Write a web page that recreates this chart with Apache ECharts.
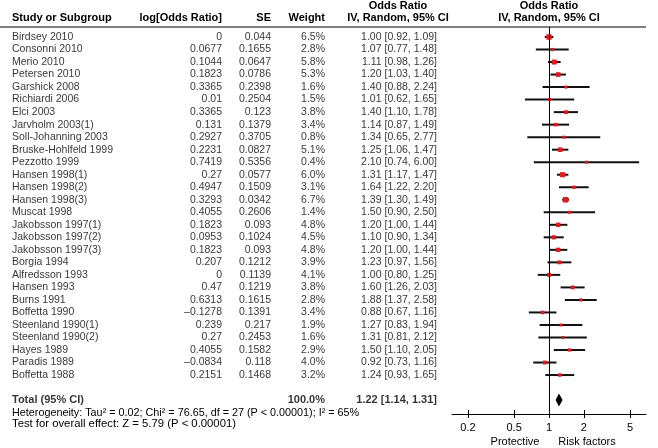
<!DOCTYPE html>
<html><head><meta charset="utf-8">
<script src="https://cdn.jsdelivr.net/npm/echarts@6/dist/echarts.min.js"></script>
<style>html,body{margin:0;padding:0;background:#fff}#c{width:658px;height:448px}</style>
</head><body><div id="c"></div>
<script>
const studies = ['Birdsey 2010','Consonni 2010','Merio 2010','Petersen 2010','Garshick 2008','Richiardi 2006','Elci 2003','Jarvholm 2003(1)','Soll-Johanning 2003','Bruske-Hohlfeld 1999','Pezzotto 1999','Hansen 1998(1)','Hansen 1998(2)','Hansen 1998(3)','Muscat 1998','Jakobsson 1997(1)','Jakobsson 1997(2)','Jakobsson 1997(3)','Borgia 1994','Alfredsson 1993','Hansen 1993','Burns 1991','Boffetta 1990','Steenland 1990(1)','Steenland 1990(2)','Hayes 1989','Paradis 1989','Boffetta 1988'];
const logOR = [0,0.0677,0.1044,0.1823,0.3365,0.01,0.3365,0.131,0.2927,0.2231,0.7419,0.27,0.4947,0.3293,0.4055,0.1823,0.0953,0.1823,0.207,0,0.47,0.6313,-0.1278,0.239,0.27,0.4055,-0.0834,0.2151];
const se = [0.044,0.1655,0.0647,0.0786,0.2398,0.2504,0.123,0.1379,0.3705,0.0827,0.5356,0.0577,0.1509,0.0342,0.2606,0.093,0.1024,0.093,0.1212,0.1139,0.1219,0.1615,0.1391,0.217,0.2453,0.1582,0.118,0.1468];
const weights = [6.5,2.8,5.8,5.3,1.6,1.5,3.8,3.4,0.8,5.1,0.4,6.0,3.1,6.7,1.4,4.8,4.5,4.8,3.9,4.1,3.8,2.8,3.4,1.9,1.6,2.9,4.0,3.2];
const oddsRatio = [1.00,1.07,1.11,1.20,1.40,1.01,1.40,1.14,1.34,1.25,2.10,1.31,1.64,1.39,1.50,1.20,1.10,1.20,1.23,1.00,1.60,1.88,0.88,1.27,1.31,1.50,0.92,1.24];
const ciLow = [0.92,0.77,0.98,1.03,0.88,0.62,1.10,0.87,0.65,1.06,0.74,1.17,1.22,1.30,0.90,1.00,0.90,1.00,0.97,0.80,1.26,1.37,0.67,0.83,0.81,1.10,0.73,0.93];
const ciHigh = [1.09,1.48,1.26,1.40,2.24,1.65,1.78,1.49,2.77,1.47,6.00,1.47,2.20,1.49,2.50,1.44,1.34,1.44,1.56,1.25,2.03,2.58,1.16,1.94,2.12,2.05,1.16,1.65];
const totalLabel = 'Total (95% CI)';
const totalWeight = 100.0;
const totalOR = 1.22, totalLow = 1.14, totalHigh = 1.31;
const tickValues = [0.2, 0.5, 1, 2, 5];
const heterogeneityText = 'Heterogeneity: Tau\u00b2 = 0.02; Chi\u00b2 = 76.65, df = 27 (P < 0.00001); I\u00b2 = 65%';
const overallText = 'Test for overall effect: Z = 5.79 (P < 0.00001)';

const FONT = 'Liberation Sans, Arial, Helvetica, sans-serif';
const FS = 10.5;
const totalRow = studies.length + 1;
const fmtNum = v => String(v).replace('-', '\u2013');
const fmtCI = (o, l, h) => o.toFixed(2) + ' [' + l.toFixed(2) + ', ' + h.toFixed(2) + ']';

// row geometry
const ROW0 = 37, ROWH = 12.52;
const tableMin = (0 - ROW0) / ROWH, tableMax = (448 - ROW0) / ROWH;
const plotTop = 27, plotBottom = 414;
const plotMin = (plotTop - ROW0) / ROWH, plotMax = (plotBottom - ROW0) / ROWH;

function textCol(xAnchor, texts, align, bold, rowOffset) {
  return {
    type: 'scatter', xAxisIndex: 0, yAxisIndex: 0, symbolSize: 0, silent: true, clip: false,
    data: texts.map((t, i) => [xAnchor, i + (rowOffset || 0)]),
    label: {
      show: true, position: 'inside', align: align, verticalAlign: 'middle',
      formatter: p => texts[p.dataIndex],
      color: '#000', fontSize: bold ? 11 : FS, fontWeight: bold ? 'bold' : 'normal', fontFamily: FONT
    },
    z: 5
  };
}

const chart = echarts.init(document.getElementById('c'));
const option = {
  animation: false,
  backgroundColor: '#fff',
  grid: [
    { left: 0, top: 0, width: 658, height: 448 },
    { left: 452, top: plotTop, width: 194, height: plotBottom - plotTop }
  ],
  xAxis: [
    { gridIndex: 0, type: 'value', min: 0, max: 658, show: false },
    { gridIndex: 1, type: 'log', min: 0.1456, max: 6.87, position: 'bottom',
      axisLine: { show: true, onZero: false, lineStyle: { color: '#000', width: 1 } },
      axisTick: { show: true, customValues: tickValues, length: 4, inside: false, lineStyle: { color: '#000', width: 1 } },
      axisLabel: { show: true, customValues: tickValues, formatter: v => String(+(+v).toFixed(2)), color: '#000', fontSize: 11, fontFamily: FONT, margin: 8 },
      splitLine: { show: false }, minorTick: { show: false } },
    { gridIndex: 1, type: 'log', min: 0.1456, max: 6.87, position: 'bottom',
      axisLine: { show: false, onZero: false },
      axisTick: { show: true, customValues: tickValues, length: 4, inside: true, lineStyle: { color: '#000', width: 1 } },
      axisLabel: { show: false }, splitLine: { show: false } }
  ],
  yAxis: [
    { gridIndex: 0, type: 'value', inverse: true, min: tableMin, max: tableMax, show: false },
    { gridIndex: 1, type: 'value', inverse: true, min: plotMin, max: plotMax, show: false }
  ],
  graphic: [
    { type: 'line', shape: { x1: 0, y1: 27, x2: 646, y2: 27 }, style: { stroke: '#000', lineWidth: 1 }, z: 10 },
    { type: 'text', x: 12, y: 18, style: { text: 'Study or Subgroup', font: 'bold 11px ' + FONT, fill: '#000', align: 'left', verticalAlign: 'middle' } },
    { type: 'text', x: 222, y: 18, style: { text: 'log[Odds Ratio]', font: 'bold 11px ' + FONT, fill: '#000', align: 'right', verticalAlign: 'middle' } },
    { type: 'text', x: 271, y: 18, style: { text: 'SE', font: 'bold 11px ' + FONT, fill: '#000', align: 'right', verticalAlign: 'middle' } },
    { type: 'text', x: 325, y: 18, style: { text: 'Weight', font: 'bold 11px ' + FONT, fill: '#000', align: 'right', verticalAlign: 'middle' } },
    { type: 'text', x: 398, y: 6, style: { text: 'Odds Ratio', font: 'bold 11px ' + FONT, fill: '#000', align: 'center', verticalAlign: 'middle' } },
    { type: 'text', x: 398, y: 18, style: { text: 'IV, Random, 95% CI', font: 'bold 11px ' + FONT, fill: '#000', align: 'center', verticalAlign: 'middle' } },
    { type: 'text', x: 549, y: 6, style: { text: 'Odds Ratio', font: 'bold 11px ' + FONT, fill: '#000', align: 'center', verticalAlign: 'middle' } },
    { type: 'text', x: 549, y: 18, style: { text: 'IV, Random, 95% CI', font: 'bold 11px ' + FONT, fill: '#000', align: 'center', verticalAlign: 'middle' } },
    { type: 'text', x: 12, y: 413, style: { text: heterogeneityText, font: '10.8px ' + FONT, fill: '#000', align: 'left', verticalAlign: 'middle' } },
    { type: 'text', x: 12, y: 424, style: { text: overallText, font: '11.3px ' + FONT, fill: '#000', align: 'left', verticalAlign: 'middle' } },
    { type: 'text', x: 515, y: 442, style: { text: 'Protective', font: '11px ' + FONT, fill: '#000', align: 'center', verticalAlign: 'middle' } },
    { type: 'text', x: 587, y: 442, style: { text: 'Risk factors', font: '11px ' + FONT, fill: '#000', align: 'center', verticalAlign: 'middle' } }
  ],
  series: [
    textCol(12, studies, 'left', false),
    textCol(222, logOR.map(fmtNum), 'right', false),
    textCol(271, se.map(fmtNum), 'right', false),
    textCol(325, weights.map(w => w.toFixed(1) + '%'), 'right', false),
    textCol(437, oddsRatio.map((o, i) => fmtCI(o, ciLow[i], ciHigh[i])), 'right', false),
    textCol(12, [totalLabel], 'left', true, totalRow),
    textCol(325, [totalWeight.toFixed(1) + '%'], 'right', true, totalRow),
    textCol(437, [fmtCI(totalOR, totalLow, totalHigh)], 'right', true, totalRow),
    {
      type: 'custom', xAxisIndex: 1, yAxisIndex: 1, silent: true, clip: false,
      data: ciLow.map((l, i) => [l, ciHigh[i], i]),
      encode: { x: [0, 1], y: 2 },
      renderItem: (params, api) => {
        const a = api.coord([api.value(0), api.value(2)]);
        const b = api.coord([api.value(1), api.value(2)]);
        return { type: 'line', shape: { x1: a[0], y1: a[1], x2: b[0], y2: b[1] }, style: { stroke: '#111', lineWidth: 2 } };
      },
      markLine: {
        silent: true, symbol: 'none', label: { show: false },
        lineStyle: { color: '#000', width: 1, type: 'solid' },
        data: [{ xAxis: 1 }]
      },
      z: 2
    },
    {
      type: 'scatter', xAxisIndex: 1, yAxisIndex: 1, silent: true,
      data: oddsRatio.map((o, i) => [o, i, weights[i]]),
      symbol: 'rect',
      symbolSize: d => Math.max(3, 1.5 + 0.6 * d[2]),
      itemStyle: { color: '#e8161b', opacity: 1 },
      z: 4
    },
    {
      type: 'custom', xAxisIndex: 1, yAxisIndex: 1, silent: true, clip: false,
      data: [[totalLow, totalHigh, totalOR, totalRow]],
      encode: { x: [0, 1, 2], y: 3 },
      renderItem: (params, api) => {
        const y = api.value(3);
        const l = api.coord([api.value(0), y]);
        const h = api.coord([api.value(1), y]);
        const m = api.coord([api.value(2), y]);
        const hh = 6.5;
        return { type: 'polygon', shape: { points: [[l[0], l[1]], [m[0], m[1] - hh], [h[0], h[1]], [m[0], m[1] + hh]] }, style: { fill: '#000' } };
      },
      z: 4
    }
  ]
};
chart.setOption(option);
</script>
</body></html>
